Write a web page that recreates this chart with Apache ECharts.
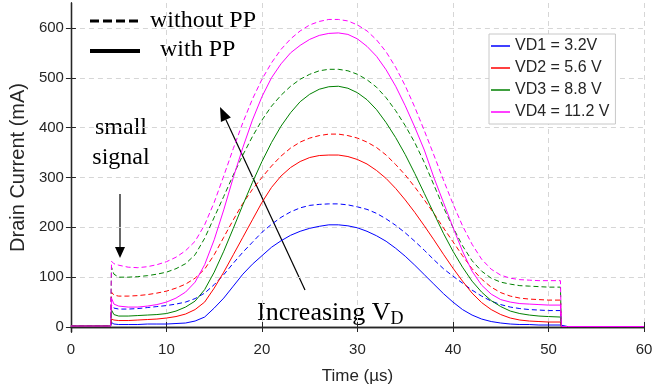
<!DOCTYPE html>
<html><head><meta charset="utf-8">
<script src="https://cdn.jsdelivr.net/npm/echarts@6/dist/echarts.min.js"></script>
<style>html,body{margin:0;padding:0;background:#fff}#c{width:670px;height:390px}</style>
</head><body><div id="c"></div>
<script>
// time axis samples (µs)
const times = [0, 4.15, 4.25, 4.5,
  5, 6, 7, 8, 9, 10, 11, 12, 13, 14, 15, 16, 17, 18, 19, 20, 21, 22, 23, 24, 25, 26, 27, 28, 29,
  30, 31, 32, 33, 34, 35, 36, 37, 38, 39, 40, 41, 42, 43, 44, 45, 46, 47, 48, 49, 50,
  51.25, 51.35, 52, 60];

// Drain current (mA) with PP (solid)
const vd1With = [2, 2, 9, 6,
  5, 5, 5, 6, 6, 6, 7, 8, 12, 20, 38, 58, 82, 106, 126, 143, 160, 173, 184, 192, 198, 202, 205, 205, 203,
  199, 192, 183, 172, 158, 142, 124, 105, 86, 67, 50, 35, 24, 16, 11, 8, 6, 5, 5, 4, 4,
  4, 1, 1, 1];
const vd2With = [2, 2, 16, 14,
  13, 13, 14, 15, 16, 18, 21, 26, 35, 50, 78, 110, 145, 180, 215, 250, 280, 303, 320, 332, 340, 344, 345, 345, 342,
  336, 327, 314, 298, 278, 255, 230, 203, 175, 146, 118, 92, 68, 49, 35, 25, 18, 14, 12, 11, 10,
  10, 1, 1, 1];
const vd3With = [2, 2, 34, 25,
  22, 22, 23, 24, 25, 27, 32, 40, 52, 75, 110, 152, 198, 245, 290, 332, 370, 403, 430, 452, 467, 477, 482, 483, 479,
  470, 456, 436, 410, 380, 346, 308, 268, 228, 188, 152, 120, 92, 70, 53, 41, 32, 27, 24, 22, 21,
  20, 1, 1, 1];
const vd4With = [2, 2, 58, 46,
  42, 40, 40, 42, 45, 50, 58, 70, 90, 125, 175, 235, 300, 360, 415, 462, 500, 528, 550, 565, 577, 585, 589, 590, 587,
  578, 563, 543, 516, 483, 444, 401, 355, 300, 250, 200, 152, 112, 84, 66, 55, 50, 47, 46, 45, 44,
  44, 1, 1, 1];

// Drain current (mA) without PP (dashed)
const vd1Without = [2, 2, 44, 38,
  36, 36, 37, 39, 41, 43, 46, 50, 57, 68, 85, 105, 128, 150, 170, 190, 206, 220, 231, 239, 244, 246, 247, 247, 245,
  241, 236, 228, 217, 204, 189, 172, 154, 135, 117, 102, 88, 74, 62, 52, 45, 40, 37, 35, 34, 33,
  33, 1, 1, 1];
const vd2Without = [2, 2, 70, 64,
  62, 62, 63, 65, 68, 72, 78, 86, 98, 116, 145, 180, 215, 248, 276, 300, 323, 343, 359, 371, 379, 384, 387, 387, 384,
  379, 371, 360, 345, 326, 305, 281, 255, 228, 199, 171, 143, 117, 96, 80, 69, 62, 58, 56, 55, 54,
  54, 1, 1, 1];
const vd3Without = [2, 2, 120, 106,
  100, 100, 101, 103, 106, 110, 117, 127, 145, 178, 220, 262, 305, 345, 382, 415, 443, 465, 483, 497, 507, 514, 517, 517, 514,
  507, 496, 481, 460, 434, 404, 370, 330, 285, 240, 200, 163, 133, 112, 98, 90, 86, 83, 82, 81, 80,
  80, 1, 1, 1];
const vd4Without = [2, 2, 132, 127,
  124, 120, 119, 121, 125, 131, 140, 153, 172, 205, 250, 303, 358, 410, 457, 497, 530, 557, 578, 594, 606, 613, 617, 617, 614,
  606, 594, 576, 552, 521, 484, 441, 394, 345, 295, 247, 203, 166, 136, 116, 104, 98, 95, 94, 93, 93,
  93, 1, 1, 1];

const seriesNames = ['VD1 = 3.2V', 'VD2 = 5.6 V', 'VD3 = 8.8 V', 'VD4 = 11.2 V'];
const yTickValues = [0, 100, 200, 300, 400, 500, 600];
const xTickValues = [0, 10, 20, 30, 40, 50, 60];

const colors = ['#0000ff', '#ff0000', '#008000', '#ff00ff'];
const withSets = [vd1With, vd2With, vd3With, vd4With];
const withoutSets = [vd1Without, vd2Without, vd3Without, vd4Without];
const pair = arr => times.map((t, i) => [t, arr[i]]);

const series = [];
for (let i = 0; i < 4; i++) {
  series.push({
    name: seriesNames[i] + ' (without PP)', type: 'line', data: pair(withoutSets[i]),
    symbol: 'none', color: colors[i], lineStyle: {width: 1, type: [5, 3], color: colors[i]}, z: 2
  });
}
for (let i = 0; i < 4; i++) {
  series.push({
    name: seriesNames[i], type: 'line', data: pair(withSets[i]),
    symbol: 'none', color: colors[i], lineStyle: {width: 1, color: colors[i]}, z: 3
  });
}

const SANS = '"Liberation Sans", Arial, sans-serif';
const SERIF = '"Liberation Serif", "Times New Roman", serif';
const AX = '#262626';

function arrow(x1, y1, x2, y2, hl, hw) {
  const dx = x2 - x1, dy = y2 - y1, L = Math.hypot(dx, dy);
  const ux = dx / L, uy = dy / L, nx = -uy, ny = ux;
  const bx = x2 - ux * hl, by = y2 - uy * hl;
  return [
    {type: 'line', shape: {x1, y1, x2: bx, y2: by}, style: {stroke: '#000', lineWidth: 1.2}},
    {type: 'polygon', shape: {points: [[x2, y2], [bx + nx * hw, by + ny * hw], [bx - nx * hw, by - ny * hw]]},
     style: {fill: '#000'}}
  ];
}

const graphics = [
  {type: 'line', shape: {x1: 90, y1: 21, x2: 140, y2: 21}, style: {stroke: '#000', lineWidth: 3, lineDash: [9, 4]}},
  {type: 'text', x: 150, y: 21, style: {text: 'without PP', fontSize: 24, fontFamily: SERIF, fill: '#000', align: 'left', verticalAlign: 'middle'}},
  {type: 'line', shape: {x1: 90, y1: 51, x2: 140, y2: 51}, style: {stroke: '#000', lineWidth: 4}},
  {type: 'text', x: 160, y: 50, style: {text: 'with PP', fontSize: 24, fontFamily: SERIF, fill: '#000', align: 'left', verticalAlign: 'middle'}},
  {type: 'text', x: 121, y: 143, style: {text: 'small\nsignal', fontSize: 24, lineHeight: 30, fontFamily: SERIF, fill: '#000', align: 'center', verticalAlign: 'middle'}},
  ...arrow(120, 194, 120, 258, 11, 5),
  ...arrow(305, 290, 220, 107, 14, 5.5),
  {type: 'text', x: 257, y: 313, style: {
    text: '{a|Increasing V}{b|D}', align: 'left', verticalAlign: 'middle',
    rich: {a: {fontSize: 26, fontFamily: SERIF, fill: '#000', lineHeight: 30},
           b: {fontSize: 18, fontFamily: SERIF, fill: '#000', lineHeight: 16, verticalAlign: 'bottom'}}
  }}
];

const gridLine = {show: true, lineStyle: {color: '#d6d6d6', type: [5, 4], width: 1}};

const option = {
  animation: false,
  backgroundColor: '#fff',
  grid: {left: 70, right: 26, top: 3, bottom: 57, containLabel: false},
  legend: {
    data: seriesNames, orient: 'vertical', left: 489, top: 34,
    padding: [4, 6, 4, 2], itemGap: 6, itemWidth: 19, itemHeight: 1.5, icon: 'rect',
    backgroundColor: '#fff', borderColor: '#c8c8c8', borderWidth: 1, borderRadius: 0,
    textStyle: {fontSize: 16, fontFamily: SANS, color: '#262626'}, selectedMode: false
  },
  xAxis: [{
    type: 'value', min: 0, max: 60, interval: 10, position: 'bottom',
    name: 'Time (µs)', nameLocation: 'middle', nameGap: 36,
    nameTextStyle: {fontSize: 17, fontFamily: SANS, color: AX},
    axisLine: {show: true, lineStyle: {color: AX, width: 1.3}},
    axisTick: {show: true, inside: true, length: 5, lineStyle: {color: AX}},
    axisLabel: {fontSize: 15, fontFamily: SANS, color: AX, margin: 10},
    splitLine: gridLine
  }, {
    type: 'value', min: 0, max: 60, interval: 10, position: 'top',
    axisLine: {show: true, lineStyle: {color: AX, width: 1.3}},
    axisTick: {show: true, inside: true, length: 5, lineStyle: {color: AX}},
    axisLabel: {show: false}, splitLine: {show: false}
  }],
  yAxis: [{
    type: 'value', min: -10, max: 650, position: 'left',
    name: 'Drain Current (mA)', nameLocation: 'middle', nameGap: 33,
    nameTextStyle: {fontSize: 20, fontFamily: SANS, color: AX},
    axisLine: {show: true, lineStyle: {color: AX, width: 1.3}},
    axisTick: {show: true, inside: true, length: 5, customValues: yTickValues, lineStyle: {color: AX}},
    axisLabel: {fontSize: 15, fontFamily: SANS, color: AX, margin: 7, customValues: yTickValues},
    splitLine: gridLine
  }, {
    type: 'value', min: -10, max: 650, position: 'right',
    axisLine: {show: true, lineStyle: {color: AX, width: 1.3}},
    axisTick: {show: true, inside: true, length: 5, customValues: yTickValues, lineStyle: {color: AX}},
    axisLabel: {show: false}, splitLine: {show: false}
  }],
  series: series,
  graphic: graphics
};

const chart = echarts.init(document.getElementById('c'), null, {renderer: 'canvas'});
chart.setOption(option);
</script>
</body></html>
